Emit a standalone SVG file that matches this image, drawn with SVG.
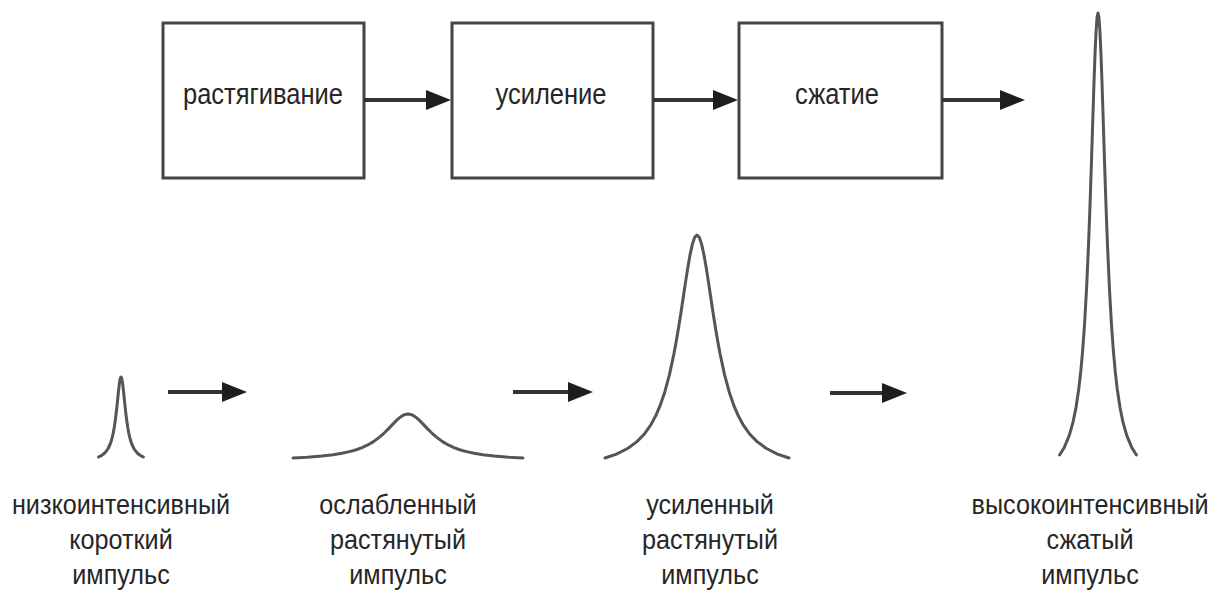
<svg xmlns="http://www.w3.org/2000/svg" xmlns:xlink="http://www.w3.org/1999/xlink" width="1213" height="590" viewBox="0 0 1213 590">
  <style>
    .box { fill: #ffffff; stroke: #444444; stroke-width: 3; }
    .boxtext { font-family: "Liberation Sans", Arial, sans-serif; font-size: 30px; fill: #262626; text-anchor: middle; }
    .label { font-family: "Liberation Sans", Arial, sans-serif; font-size: 28px; fill: #262626; text-anchor: middle; }
    .arrow { stroke: #333333; stroke-width: 4; fill: none; marker-end: url(#head); }
    .pulse { fill: none; stroke: #555555; stroke-width: 3; stroke-linejoin: round; stroke-linecap: round; }
  </style>
  <defs>
    <marker id="head" markerUnits="userSpaceOnUse" markerWidth="26" markerHeight="22" refX="10" refY="10" orient="auto">
      <path d="M0,0 L25,10 L0,20 Z" fill="#1e1e1e"/>
    </marker>
    <!-- unit Lorentzian pulse: u in [-4,4], height 1, truncated so that the ends sit on the baseline -->
    <polyline id="pulseShape" class="pulse" vector-effect="non-scaling-stroke"
      points="-4,0 -3.5,-0.0177 -3,-0.0438 -2.6,-0.0745 -2.3,-0.1064 -2,-0.15 -1.8,-0.188 -1.6,-0.236 -1.4,-0.2964 -1.2,-0.3729 -1,-0.4688 -0.9,-0.5245 -0.8,-0.5854 -0.7,-0.6505 -0.6,-0.7188 -0.5,-0.7875 -0.4,-0.8535 -0.3,-0.9122 -0.2,-0.9591 -0.1,-0.9895 0,-1 0.1,-0.9895 0.2,-0.9591 0.3,-0.9122 0.4,-0.8535 0.5,-0.7875 0.6,-0.7188 0.7,-0.6505 0.8,-0.5854 0.9,-0.5245 1,-0.4688 1.2,-0.3729 1.4,-0.2964 1.6,-0.236 1.8,-0.188 2,-0.15 2.3,-0.1064 2.6,-0.0745 3,-0.0438 3.5,-0.0177 4,0"/>
  </defs>

  <rect width="1213" height="590" fill="#ffffff"/>

  <!-- processing stages -->
  <g id="stretch">
    <rect class="box" x="163" y="23" width="201" height="155"/>
    <text class="boxtext" transform="translate(263,104) scale(0.85,1)">растягивание</text>
  </g>
  <g id="amplify">
    <rect class="box" x="452" y="23" width="201" height="155"/>
    <text class="boxtext" transform="translate(551,104) scale(0.85,1)">усиление</text>
  </g>
  <g id="compress">
    <rect class="box" x="739" y="23" width="203" height="155"/>
    <text class="boxtext" transform="translate(837,104) scale(0.85,1)">сжатие</text>
  </g>

  <!-- pulse shapes -->
  <g id="pulse-short">
    <use xlink:href="#pulseShape" transform="translate(121,457) scale(5.6,80)"/>
    <text class="label" transform="translate(121,514) scale(0.9,1)"><tspan x="0" y="0">низкоинтенсивный</tspan><tspan x="0" y="35">короткий</tspan><tspan x="0" y="70">импульс</tspan></text>
  </g>
  <g id="pulse-stretched">
    <use xlink:href="#pulseShape" transform="translate(408,458) scale(28.75,44)"/>
    <text class="label" transform="translate(398,514) scale(0.9,1)"><tspan x="0" y="0">ослабленный</tspan><tspan x="0" y="35">растянутый</tspan><tspan x="0" y="70">импульс</tspan></text>
  </g>
  <g id="pulse-amplified">
    <use xlink:href="#pulseShape" transform="translate(697,458) scale(23,223)"/>
    <text class="label" transform="translate(710,514) scale(0.9,1)"><tspan x="0" y="0">усиленный</tspan><tspan x="0" y="35">растянутый</tspan><tspan x="0" y="70">импульс</tspan></text>
  </g>
  <g id="pulse-compressed">
    <use xlink:href="#pulseShape" transform="translate(1098,455) scale(9.6,442)"/>
    <text class="label" transform="translate(1090,514) scale(0.9,1)"><tspan x="0" y="0">высокоинтенсивный</tspan><tspan x="0" y="35">сжатый</tspan><tspan x="0" y="70">импульс</tspan></text>
  </g>

  <!-- connectors -->
  <g id="connectors">
    <line class="arrow" x1="364" y1="100" x2="436" y2="100"/>
    <line class="arrow" x1="653" y1="100" x2="723" y2="100"/>
    <line class="arrow" x1="942" y1="100" x2="1010" y2="100"/>
    <line class="arrow" x1="168" y1="392" x2="232" y2="392"/>
    <line class="arrow" x1="513" y1="392" x2="578" y2="392"/>
    <line class="arrow" x1="830" y1="393" x2="892" y2="393"/>
  </g>
</svg>
